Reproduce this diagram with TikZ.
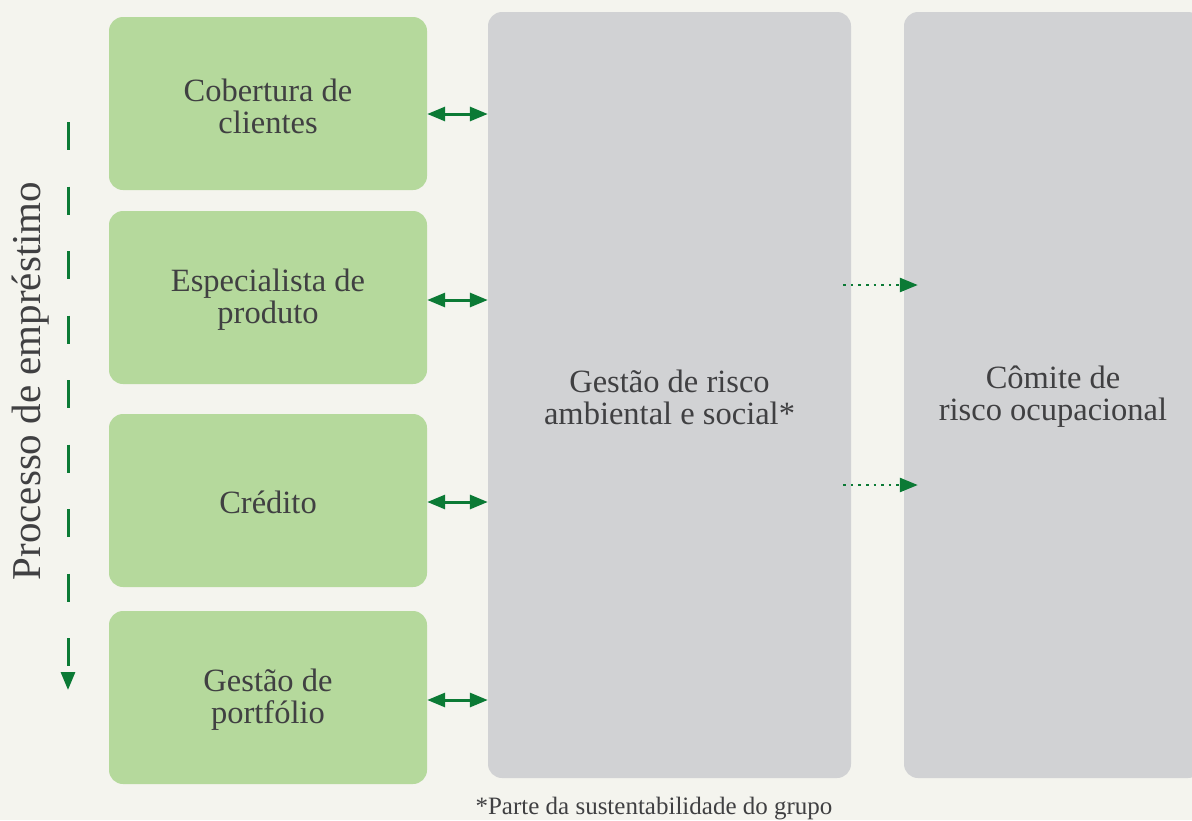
\documentclass[tikz,border=0pt]{standalone}
\usepackage{fontspec}
\setmainfont{Liberation Serif}
\usetikzlibrary{arrows.meta}
\definecolor{bgc}{HTML}{F4F4EE}
\definecolor{boxgreen}{HTML}{B5D99C}
\definecolor{boxgray}{HTML}{D1D2D4}
\definecolor{arrgreen}{HTML}{0B7A35}
\definecolor{txt}{HTML}{404042}
\tikzset{
  greenbox/.style={rectangle, rounded corners=14pt, fill=boxgreen, draw=none,
    minimum width=318pt, minimum height=173pt, inner sep=0pt},
  graybox/.style={rectangle, rounded corners=14pt, fill=boxgray, draw=none,
    minimum height=766pt, inner sep=0pt},
  boxtext/.style={align=center, text=txt, font=\fontsize{32.5}{32}\selectfont, inner sep=0pt},
  dblarrow/.style={arrgreen, line width=3pt,
    {Triangle[length=18pt,width=14pt]}-{Triangle[length=18pt,width=14pt]}},
  dotarrow/.style={arrgreen, line width=2.6pt, dash pattern=on 2.6pt off 5pt,
    -{Triangle[length=18pt,width=14pt]}},
  flowarrow/.style={arrgreen, line width=3pt, dash pattern=on 28pt off 36.5pt,
    -{Triangle[length=18pt,width=14pt]}},
}
\begin{document}
\begin{tikzpicture}[x=1pt,y=-1pt]
\useasboundingbox (0,0) rectangle (1192,820);
\fill[bgc] (0,0) rectangle (1192,820);
\begin{scope}
\clip (0,0) rectangle (1192,820);
\node[greenbox] (g1) at (268,103.5) {};
\node[greenbox] (g2) at (268,297.5) {};
\node[greenbox] (g3) at (268,500.5) {};
\node[greenbox] (g4) at (268,697.5) {};
\node[graybox, minimum width=363pt] (mid) at (669.5,395) {};
\node[graybox, minimum width=298pt] (right) at (1053,395) {};
\end{scope}
\node[boxtext] (t1) at ([yshift=-2.5pt]g1.center) {Cobertura de\\clientes};
\node[boxtext] (t2) at ([yshift=-2.5pt]g2.center) {Especialista de\\produto};
\node[boxtext] (t3) at ([yshift=-2pt]g3.center) {Crédito};
\node[boxtext] (t4) at ([yshift=-2.5pt]g4.center) {Gestão de\\portfólio};
\node[boxtext] (tm) at ([yshift=-2pt]mid.center) {Gestão de risco\\ambiental e social*};
\node[boxtext] (tr) at ([yshift=-2pt]right.center) {Cômite de\\risco ocupacional};
\node[rotate=90, anchor=base, text=txt, font=\fontsize{41}{41}\selectfont, inner sep=0pt] (proc) at (40,381) {Processo de empréstimo};
\node[anchor=base, text=txt, font=\fontsize{25}{25}\selectfont, inner sep=0pt] (foot) at (654,814) {*Parte da sustentabilidade do grupo};
\draw[dblarrow] (g1.east |- 0,114) -- (mid.west |- 0,114);
\draw[dblarrow] (g2.east |- 0,300) -- (mid.west |- 0,300);
\draw[dblarrow] (g3.east |- 0,502) -- (mid.west |- 0,502);
\draw[dblarrow] (g4.east |- 0,700) -- (mid.west |- 0,700);
\draw[dotarrow] ([xshift=-8pt]mid.east |- 0,285) -- ([xshift=14pt]right.west |- 0,285);
\draw[dotarrow] ([xshift=-8pt]mid.east |- 0,485) -- ([xshift=14pt]right.west |- 0,485);
\coordinate (fs) at (68,122);
\coordinate (fe) at (68,690);
\draw[flowarrow] (fs) -- (fe);
\end{tikzpicture}
\end{document}
